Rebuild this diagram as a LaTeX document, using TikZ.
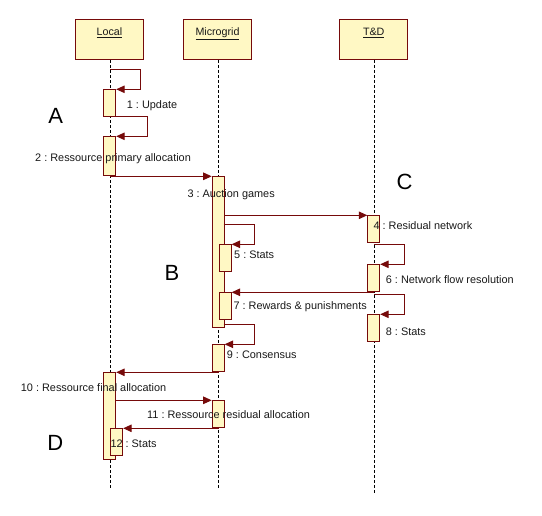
\documentclass[tikz,border=0pt]{standalone}
\usepackage{fontspec}
\setmainfont{Liberation Sans}
\usetikzlibrary{arrows.meta}
\definecolor{umlfill}{RGB}{255,248,196}
\definecolor{umlline}{RGB}{118,10,10}
\definecolor{umltext}{RGB}{25,25,25}
\frenchspacing
\begin{document}
\begin{tikzpicture}[x=1pt,y=-1pt,
  head/.style={draw=umlline, fill=umlfill, line width=1pt, minimum width=68pt, minimum height=39.3pt, inner sep=0pt},
  headtext/.style={font=\fontsize{10.7}{12}\selectfont, text=umltext, inner sep=0pt, text height=8pt, text depth=0pt},
  act/.style={draw=umlline, fill=umlfill, line width=0.9pt, minimum width=12pt, minimum height=26.7pt, inner sep=0pt, anchor=north west},
  msg/.style={draw=umlline, line width=1pt, -{Triangle[length=8.5pt,width=7.5pt]}},
  lifeline/.style={draw=black, line width=0.8pt, dash pattern=on 3pt off 2pt},
  lbl/.style={font=\fontsize{10.9}{12}\selectfont, text=umltext, inner sep=0pt, anchor=west, text height=8pt, text depth=0pt},
  big/.style={font=\fontsize{22}{24}\selectfont, inner sep=0pt, text height=16pt, text depth=0pt}]
\useasboundingbox (0,0) rectangle (542,516);

% headers
\node[head] (hL) at (109.3,39.65) {};
\node[head] (hM) at (217.5,39.65) {};
\node[head] (hT) at (373.7,39.65) {};
\node[headtext] (tL) at (109.5,31.7) {\underline{Local}};
\node[headtext] (tM) at (217.5,31.7) {\underline{Microgrid}};
\node[headtext] (tT) at (373.7,31.7) {\underline{T\&D}};

% lifelines
\coordinate (Ltop) at (110.3,59.8);
\coordinate (Lbot) at (110.3,488.3);
\coordinate (Mtop) at (218.7,59.8);
\coordinate (Mbot) at (218.7,489.3);
\coordinate (Ttop) at (374.3,59.8);
\coordinate (Tbot) at (374.3,494.3);
\draw[lifeline] (Ltop) -- (Lbot);
\draw[lifeline] (Mtop) -- (Mbot);
\draw[lifeline] (Ttop) -- (Tbot);

% activations
\node[act] (a1) at (103.3,89.3) {};
\node[act, minimum height=39pt] (a2) at (103.3,136.3) {};
\node[act, minimum height=150.7pt] (a3) at (211.7,176.3) {};
\node[act] (a4) at (367.3,215.3) {};
\node[act] (a5) at (218.7,244.3) {};
\node[act] (a6) at (367.3,264.3) {};
\node[act] (a7) at (218.7,292.3) {};
\node[act] (a8) at (367.3,314.3) {};
\node[act] (a9) at (211.7,344.3) {};
\node[act, minimum height=87pt] (a10) at (103.3,372.3) {};
\node[act] (a11) at (211.7,400.3) {};
\node[act] (a12) at (110.3,428.3) {};

% messages
\coordinate (s1) at (110.3,69.3);
\draw[msg] (s1) -- ++(30,0) |- (a1.north east);
\draw[msg] (a1.south east) -- ++(31,0) |- (a2.north east);
\coordinate (s2) at (110.3,176.3);
\draw[msg] (s2) -- (a3.north west);
\draw[msg] (a4.north west -| a3.east) -- (a4.north west);
\coordinate (s5) at (223.6,224.3);
\draw[msg] (s5) -- ++(31,0) |- (a5.north east);
\coordinate (s6) at (374.3,244.3);
\draw[msg] (s6) -- ++(29.7,0) |- (a6.north east);
\draw[msg] (a7.north east -| Ttop) -- (a7.north east);
\coordinate (s8) at (374.3,294.7);
\draw[msg] (s8) -- ++(29.7,0) |- (a8.north east);
\coordinate (s9) at (223.6,324.3);
\draw[msg] (s9) -- ++(31,0) |- (a9.north east);
\draw[msg] (a10.north east -| Mtop) -- (a10.north east);
\draw[msg] (a11.north west -| a10.east) -- (a11.north west);
\draw[msg] (a12.north east -| Mtop) -- (a12.north east);

% labels
\node[lbl] (m1) at (126.7,104.3) {1 : Update};
\node[lbl] (m2) at (35,157.7) {2 : Ressource primary allocation};
\node[lbl] (m3) at (187.3,194) {3 : Auction games};
\node[lbl] (m4) at (373.3,226) {4 : Residual network};
\node[lbl] (m5) at (234,255) {5 : Stats};
\node[lbl] (m6) at (385.7,279.3) {6 : Network flow resolution};
\node[lbl] (m7) at (233.3,306) {7 : Rewards \& punishments};
\node[lbl] (m8) at (385.7,331.7) {8 : Stats};
\node[lbl] (m9) at (226.7,355) {9 : Consensus};
\node[lbl] (m10) at (20.7,387.3) {10 : Ressource final allocation};
\node[lbl] (m11) at (147,414.3) {11 : Ressource residual allocation};
\node[lbl] (m12) at (110.3,443.3) {12 : Stats};

% section letters
\node[big] (A) at (55.8,116) {A};
\node[big] (B) at (172,272.5) {B};
\node[big] (C) at (404.5,182) {C};
\node[big] (D) at (55.2,442.5) {D};
\end{tikzpicture}
\end{document}
